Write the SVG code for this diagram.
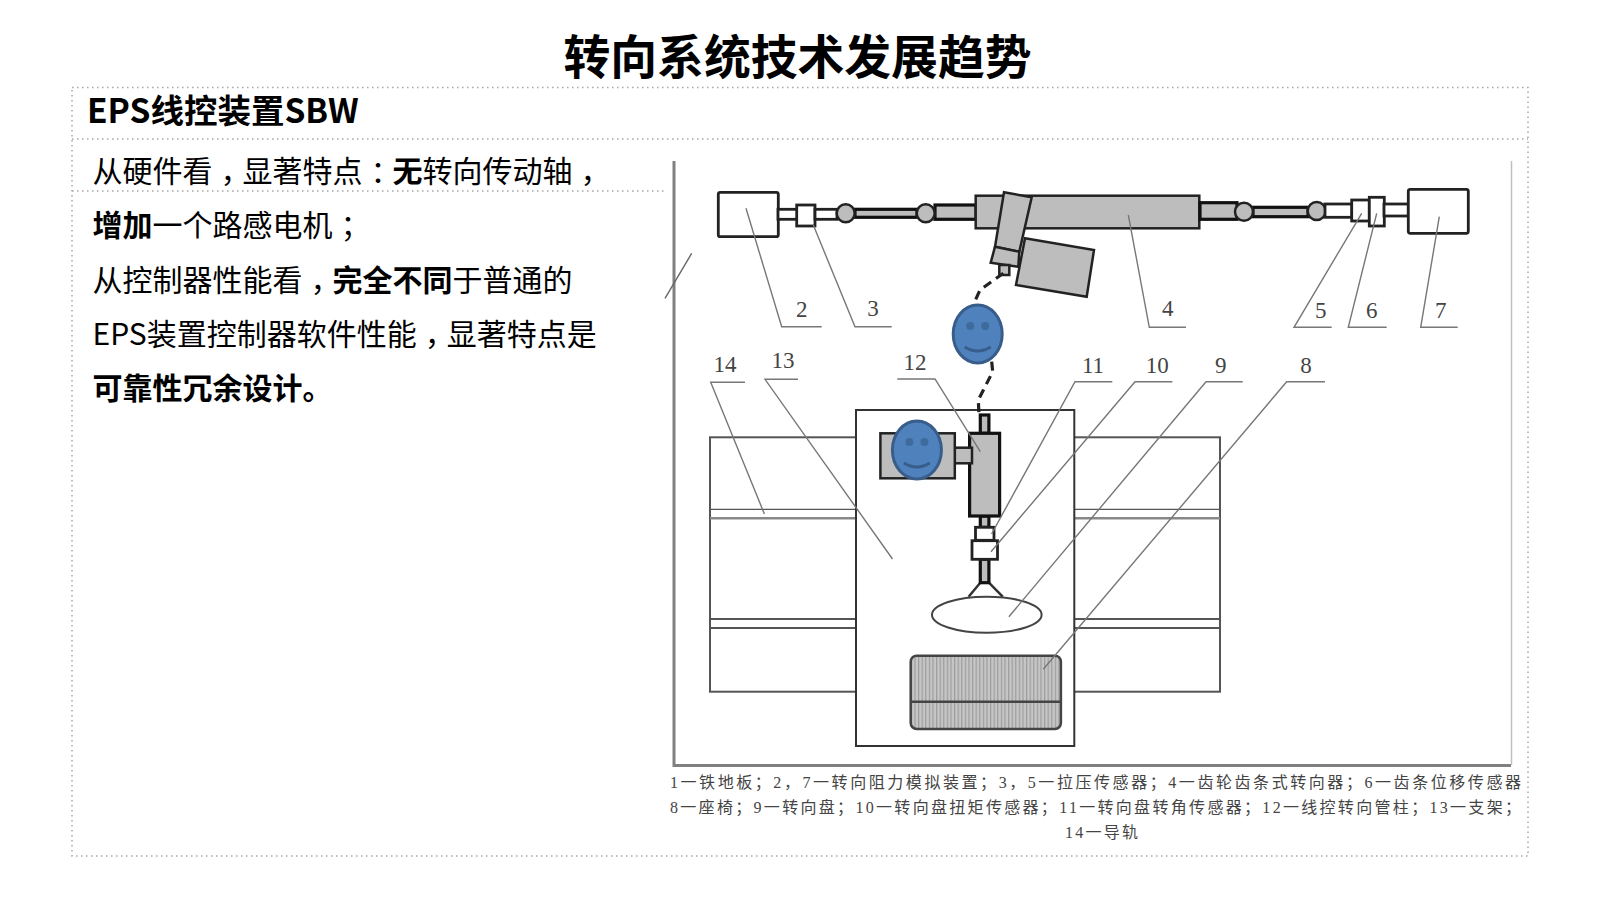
<svg xmlns="http://www.w3.org/2000/svg" width="1597" height="900" viewBox="0 0 1597 900">
<style>
text{font-family:"Noto Sans CJK SC","Liberation Sans",sans-serif;fill:#000}
.title{font-size:46.8px;font-weight:700;text-anchor:middle}
.head{font-size:33.5px;font-weight:700}
.body{font-size:30px}
.b{font-weight:700}
.h{font-feature-settings:"halt"}
.num{font-family:"Liberation Serif","Noto Sans CJK SC",serif;font-size:23px;fill:#444;text-anchor:middle}
.cap{font-family:"Liberation Serif","Noto Sans CJK SC",serif;font-size:16px;fill:#444}
.dot{fill:none;stroke:#a8a8a8;stroke-width:1.5;stroke-dasharray:1.5 3.5}
.ln{fill:none;stroke:#777;stroke-width:1.4}
.k{stroke:#222;stroke-width:2.5;fill:#bdbdbd}
.s{stroke:#111;stroke-width:3.2;fill:#bdbdbd}
.w{stroke:#222;stroke-width:2.8;fill:#fff}
.d{fill:none;stroke:#222;stroke-width:3.2;stroke-dasharray:9 6}
.face{fill:#4f81bd;stroke:#385d8a;stroke-width:3}
.eye{fill:#3f6a9c}
.smile{fill:none;stroke:#385d8a;stroke-width:3}
</style>
<defs>
<pattern id="stripes" width="3.6" height="10" patternUnits="userSpaceOnUse">
<rect width="3.6" height="10" fill="#c6c6c6"/><rect width="1.2" height="10" fill="#9c9c9c"/>
</pattern>
<g id="smiley">
<ellipse class="face" rx="24.5" ry="29"/>
<circle class="eye" cx="-7.5" cy="-8" r="4"/><circle class="eye" cx="7.5" cy="-8" r="4"/>
<path class="smile" d="M-13 13Q0 21 13 13"/>
</g>
</defs>
<rect width="1597" height="900" fill="#fff"/>

<g id="title"><text class="title" x="797.500" y="74">转向系统技术发展趋势</text></g>

<g id="frame">
<rect class="dot" x="72" y="87.5" width="1456" height="768.5"/>
<line class="dot" x1="72" y1="139" x2="1528" y2="139"/>
<line class="dot" x1="72" y1="191" x2="664" y2="191"/>
</g>

<g id="heading"><text class="head" x="87" y="123">EPS线控装置SBW</text></g>

<g id="body">
<text class="body" x="92.500" y="182">从硬件看<tspan class="h" dx="8">，</tspan><tspan dx="7">显</tspan>著特点<tspan class="h" dx="8">：</tspan><tspan class="b" dx="7">无</tspan>转向传动轴<tspan class="h" dx="8">，</tspan></text>
<text class="body" x="92.500" y="236"><tspan class="b">增加</tspan>一个路感电机<tspan class="h" dx="8">；</tspan></text>
<text class="body" x="92.500" y="291">从控制器性能看<tspan class="h" dx="8">，</tspan><tspan class="b" dx="7">完全不同</tspan>于普通的</text>
<text class="body" x="92.500" y="345">EPS装置控制器软件性能<tspan class="h" dx="8">，</tspan><tspan dx="7">显</tspan>著特点是</text>
<text class="body b" x="92.500" y="399">可靠性冗余设计。</text>
</g>

<g id="plate">
<path d="M674 161V765.500H1511" fill="none" stroke="#808080" stroke-width="3"/>
<line x1="1511.500" y1="161" x2="1511.500" y2="765" stroke="#c0c0c0" stroke-width="1.5"/>
<line x1="691.7" y1="253.3" x2="665" y2="298.3" stroke="#666" stroke-width="1.4"/>
</g>

<g id="rails" fill="none" stroke="#555">
<rect x="710" y="437.3" width="510" height="254.4" stroke-width="2"/>
<line x1="710" y1="509.3" x2="1220" y2="509.3" stroke-width="1.2"/>
<line x1="710" y1="518.3" x2="1220" y2="518.3" stroke="#888" stroke-width="2.5"/>
<line x1="710" y1="619" x2="1220" y2="619" stroke-width="2"/>
<line x1="710" y1="628" x2="1220" y2="628" stroke-width="2"/>
</g>

<g id="steering-gear">
<rect class="w" x="718.3" y="192.3" width="60" height="44.4" rx="2"/>
<rect class="w" x="778" y="209.3" width="20" height="10"/>
<rect class="w" x="796.7" y="205" width="18.3" height="21"/>
<rect class="w" x="815" y="209.3" width="22" height="10"/>
<rect class="s" x="855" y="209.3" width="62" height="8"/>
<rect class="s" x="935" y="205" width="41" height="14.3"/>
<circle class="k" cx="845.7" cy="213.3" r="9"/>
<circle class="k" cx="925.7" cy="213.3" r="9"/>
<rect class="k" x="975.7" y="195.7" width="223.6" height="32.6" stroke-width="3"/>
<rect class="s" x="1200" y="202.7" width="37" height="16.6"/>
<rect class="s" x="1253" y="207.3" width="55" height="9.4"/>
<circle class="k" cx="1244" cy="211.7" r="9"/>
<circle class="k" cx="1316.7" cy="211" r="9"/>
<rect class="w" x="1325" y="204" width="27" height="13.3"/>
<rect class="w" x="1351.7" y="200" width="17.6" height="21"/>
<rect class="w" x="1369.3" y="197.3" width="15" height="28.7"/>
<rect class="w" x="1384" y="204" width="24.3" height="12"/>
<rect class="w" x="1408.3" y="189.3" width="60" height="44" rx="2"/>
<path class="k" d="M1004 192.3L1031.7 197.3L1019.3 251.7L995 246.7Z"/>
<path class="k" d="M995 246.7L1019.3 251.7L1018.3 266.7L990.7 262.7Z"/>
<rect class="k" x="999.3" y="265" width="10" height="10"/>
<path class="k" d="M1025 238.3L1094 250L1086.7 296.7L1016 285Z"/>
</g>

<g id="seat-frame">
<rect x="856" y="410" width="218.3" height="336" fill="#fff" stroke="#333" stroke-width="2"/>
<rect x="910.7" y="655.7" width="150.2" height="73.3" rx="6" fill="url(#stripes)" stroke="#444" stroke-width="2.5"/>
<line x1="910.7" y1="701.7" x2="1060.9" y2="701.7" stroke="#444" stroke-width="2.5"/>
<ellipse cx="986.8" cy="614.7" rx="54.8" ry="18" fill="#fff" stroke="#444" stroke-width="2"/>
<path d="M968.6 596.7L980.3 582.7M1002.7 596.7L988.9 582.7" fill="none" stroke="#333" stroke-width="2.5"/>
<rect class="s" x="980.3" y="559.3" width="8.6" height="23.4"/>
<rect class="s" x="980.3" y="516" width="8.6" height="11.3"/>
<rect class="w" x="975.5" y="527.3" width="18.5" height="13"/>
<rect class="w" x="972" y="540.7" width="25.5" height="18.6"/>
<rect class="s" x="980.3" y="415" width="8.6" height="18.3"/>
<rect class="s" x="969.6" y="433.3" width="30" height="82.7"/>
<rect class="k" x="954.8" y="447.7" width="17.2" height="15.6"/>
<rect class="k" x="880.4" y="433.3" width="74.4" height="45"/>
</g>

<g id="connectors">
<path class="d" d="M1003.3 273.3L980 290L973.3 305"/>
<path class="d" d="M991.7 361.7L992.7 371.7L978.3 400L979 415"/>
<g class="leaders">
<path class="ln" d="M746 208.3L781.7 326.7H821.7"/>
<path class="ln" d="M813.3 225L855 326.7H891.7"/>
<path class="ln" d="M1128.3 215L1149.3 327.3H1186"/>
<path class="ln" d="M1361.7 213.3L1294 327.3H1331.7"/>
<path class="ln" d="M1376.7 213.3L1348.3 327.3H1386.7"/>
<path class="ln" d="M1439.3 216.7L1420.7 327.3H1457.7"/>
<path class="ln" d="M745 382.3H710.7L764.4 514"/>
<path class="ln" d="M798 379.3H765L892.5 559"/>
<path class="ln" d="M897.3 379H935L980.3 451.7"/>
<path class="ln" d="M1112.3 381.7H1075L991.6 534"/>
<path class="ln" d="M1172.3 381.7H1135L991 551.7"/>
<path class="ln" d="M1242.7 381.7H1206L1008.9 616.7"/>
<path class="ln" d="M1325 381.7H1286.7L1043.3 669.3"/>
</g>
</g>

<g id="labels">
<text class="num" x="801.7" y="317">2</text>
<text class="num" x="873" y="316">3</text>
<text class="num" x="1167.7" y="316">4</text>
<text class="num" x="1320.7" y="318">5</text>
<text class="num" x="1371.7" y="318">6</text>
<text class="num" x="1440.7" y="318">7</text>
<text class="num" x="725" y="372">14</text>
<text class="num" x="783" y="368">13</text>
<text class="num" x="915" y="370">12</text>
<text class="num" x="1093" y="373">11</text>
<text class="num" x="1157.3" y="373">10</text>
<text class="num" x="1220.7" y="373">9</text>
<text class="num" x="1306" y="373">8</text>
</g>

<g id="face-top"><use href="#smiley" x="977.7" y="334"/></g>
<g id="face-motor"><use href="#smiley" x="916.9" y="450"/></g>

<g id="caption">
<text class="cap" x="670" y="788" textLength="851" lengthAdjust="spacing">1一铁地板；2，7一转向阻力模拟装置；3，5一拉压传感器；4一齿轮齿条式转向器；6一齿条位移传感器</text>
<text class="cap" x="670" y="812.5" textLength="851" lengthAdjust="spacing">8一座椅；9一转向盘；10一转向盘扭矩传感器；11一转向盘转角传感器；12一线控转向管柱；13一支架；</text>
<text class="cap" x="1065" y="838" textLength="73" lengthAdjust="spacing">14一导轨</text>
</g>
</svg>
